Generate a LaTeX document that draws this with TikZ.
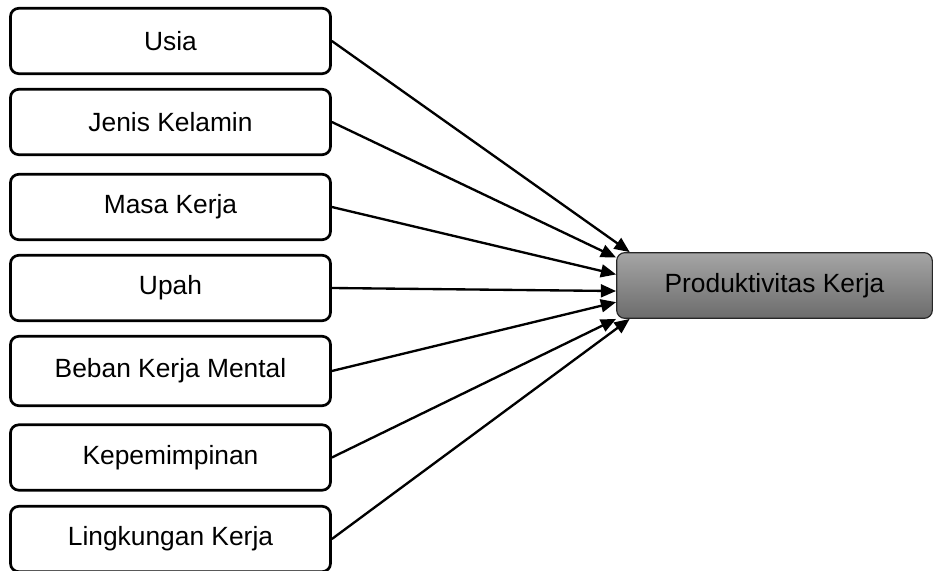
\documentclass[tikz,border=0pt]{standalone}
\usepackage{fontspec}
\setmainfont{Liberation Sans}
\usetikzlibrary{arrows.meta}
\definecolor{prodtop}{RGB}{165,165,165}
\definecolor{prodbot}{RGB}{108,108,108}
\begin{document}
\begin{tikzpicture}[x=0.03cm, y=-0.03cm,
		factor/.style={draw=black, line width=2.3pt, rounded corners=7pt, minimum width=9.6cm, minimum height=1.96cm, inner sep=0pt, font=\fontsize{22.5}{27}\selectfont},
		target/.style={draw=black!85, line width=1pt, rounded corners=7pt, top color=prodtop, bottom color=prodbot, minimum width=9.47cm, minimum height=1.97cm, inner sep=0pt, font=\fontsize{22.5}{27}\selectfont},
		arr/.style={black, line width=2pt, -{Triangle[length=13pt, width=11pt]}}]
		\useasboundingbox (0,0) rectangle (934,571);
		\node[factor] (usia) at (170.5,41) {Usia};
		\node[factor] (jenis) at (170.5,122) {Jenis Kelamin};
		\node[factor] (masa) at (170.5,207) {Masa Kerja};
		\node[factor] (upah) at (170.5,288) {Upah};
		\node[factor, minimum height=2.08cm] (beban) at (170.5,371) {Beban Kerja Mental};
		\node[factor] (pimpin) at (170.5,457.5) {Kepemimpinan};
		\node[factor] (lingk) at (170.5,539) {Lingkungan Kerja};
		\node[target] (prod) at (774.5,285.5) {Produktivitas Kerja};
		\draw[arr] (usia.east) -- (prod.167);
		\draw[arr] (jenis.east) -- (prod.170);
		\draw[arr] (masa.east) -- (prod.176);
		\draw[arr] (upah.east) -- (prod.182);
		\draw[arr] (beban.east) -- (prod.186);
		\draw[arr] (pimpin.east) -- (prod.south west);
		\draw[arr] (lingk.east) -- (prod.193);
	\end{tikzpicture}
\end{document}
